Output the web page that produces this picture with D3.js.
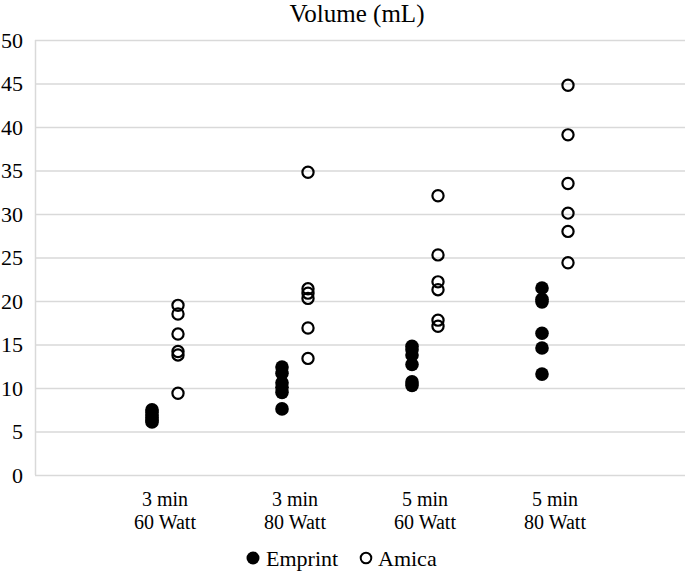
<!DOCTYPE html>
<html><head><meta charset="utf-8">
<script src="https://cdn.jsdelivr.net/npm/d3@7"></script>
<style>body{margin:0;background:#fff}svg{display:block}</style>
</head><body><svg id="c" width="685" height="574"></svg>
<script>
const categories = [["3 min","60 Watt"],["3 min","80 Watt"],["5 min","60 Watt"],["5 min","80 Watt"]];
const emprint = [
  [7.5, 7.2, 6.9, 6.6, 6.3, 6.1],
  [12.4, 11.7, 10.6, 10.1, 9.5, 7.6],
  [14.8, 14.4, 13.8, 12.7, 10.7, 10.3],
  [21.5, 20.2, 19.9, 16.3, 14.6, 11.6]
];
const amica = [
  [19.5, 18.5, 16.2, 14.2, 13.8, 9.4],
  [34.8, 21.4, 20.9, 20.3, 16.9, 13.4],
  [32.1, 25.3, 22.2, 21.3, 17.8, 17.1],
  [44.8, 39.1, 33.5, 30.1, 28.0, 24.4]
];
const yTicks = [0,5,10,15,20,25,30,35,40,45,50];
const title = "Volume (mL)";
const seriesNames = ["Emprint","Amica"];

const FONT = "Liberation Serif, DejaVu Serif, serif";
const svg = d3.select("#c").attr("font-family",FONT);
const L = 35, R = 685, T = 40, B = 475;
const x = d3.scaleLinear().domain([0,5]).range([L,R]);
const y = d3.scaleLinear().domain([0,50]).range([B,T]);

svg.append("g").selectAll("line").data(yTicks).join("line")
  .attr("x1",L).attr("x2",R).attr("y1",d=>y(d)+0.5).attr("y2",d=>y(d)+0.5)
  .attr("stroke","#d9d9d9").attr("stroke-width",1.5);
svg.append("line").attr("x1",L+0.5).attr("x2",L+0.5).attr("y1",T).attr("y2",B)
  .attr("stroke","#d9d9d9").attr("stroke-width",1.5);

const yAxis = d3.axisLeft(y).tickValues(yTicks).tickSize(0).tickPadding(12);
const gy = svg.append("g").attr("transform",`translate(${L},0)`).call(yAxis)
  .attr("font-family",FONT).attr("font-size",22);
gy.select(".domain").remove();
gy.selectAll("text").attr("fill","#000");

svg.append("text").attr("x",357).attr("y",22).attr("text-anchor","middle")
  .attr("font-size",25).text(title);

const cg = svg.append("g").attr("font-size",20).selectAll("text").data(categories).join("text")
  .attr("text-anchor","middle")
  .attr("x",(d,i)=>x(i+1)).attr("y",506);
cg.each(function(d){
  const t = d3.select(this);
  t.append("tspan").attr("x",t.attr("x")).attr("dy",0).text(d[0]);
  t.append("tspan").attr("x",t.attr("x")).attr("dy",23).text(d[1]);
});

const ePts = emprint.flatMap((vals,i)=>vals.map(v=>({c:i+1-0.1,v})));
const aPts = amica.flatMap((vals,i)=>vals.map(v=>({c:i+1+0.1,v})));
svg.append("g").selectAll("circle").data(ePts).join("circle")
  .attr("cx",d=>x(d.c)).attr("cy",d=>y(d.v)).attr("r",6.8).attr("fill","#000");
svg.append("g").selectAll("circle").data(aPts).join("circle")
  .attr("cx",d=>x(d.c)).attr("cy",d=>y(d.v)).attr("r",5.6).attr("fill","none")
  .attr("stroke","#000").attr("stroke-width",2.2);

const lg = svg.append("g").attr("font-size",22);
lg.append("circle").attr("cx",253).attr("cy",558).attr("r",6.5).attr("fill","#000");
lg.append("text").attr("x",266).attr("y",566).text(seriesNames[0]);
lg.append("circle").attr("cx",366).attr("cy",558).attr("r",5.3).attr("fill","none").attr("stroke","#000").attr("stroke-width",2);
lg.append("text").attr("x",378).attr("y",566).text(seriesNames[1]);
</script></body></html>
